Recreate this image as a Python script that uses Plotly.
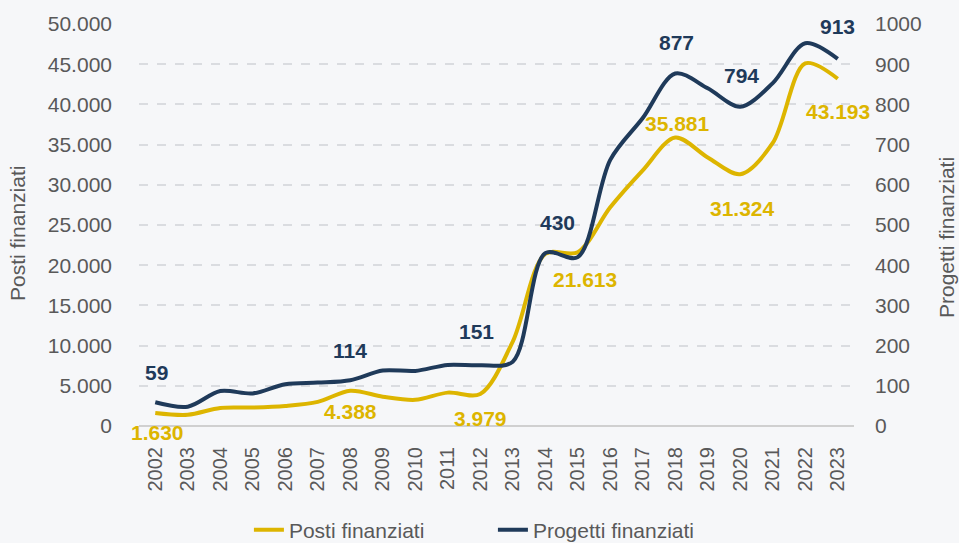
import plotly.graph_objects as go

years = list(range(2002, 2024))
posti = [1630, 1400, 2250, 2300, 2500, 3000, 4388, 3650, 3250, 4150, 3979, 10500,
         21400, 21613, 27200, 31800, 35881, 33400, 31324, 35200, 45100, 43193]
progetti = [59, 48, 87, 81, 104, 108, 114, 138, 137, 152, 151, 160,
            430, 420, 662, 766, 877, 840, 794, 853, 952, 913]

posti_labels_idx = [0, 6, 10, 13, 16, 18, 21]
posti_label_shift = [-20, -21, -24, -27, 14, -34, -33]
posti_label_xshift = [2, 0, 0, 7, 2, 2, 0]
progetti_labels_idx = [0, 6, 10, 12, 16, 18, 21]
progetti_label_shift = [30, 30, 34, 31, 31, 31, 32]
progetti_label_xshift = [1, 0, -4, 12, 1, 1, 0]

YELLOW = "#DDB500"
BLUE = "#1F3A5A"
GREY = "#595959"
BG = "#F6F7F9"
FONT = "Liberation Sans, Arial, sans-serif"
FS = 21

fig = go.Figure()
fig.add_trace(go.Scatter(x=years, y=posti, name="Posti finanziati", mode="lines",
                         line=dict(color=YELLOW, width=4, shape="spline", smoothing=0.9),
                         yaxis="y"))
fig.add_trace(go.Scatter(x=years, y=progetti, name="Progetti finanziati", mode="lines",
                         line=dict(color=BLUE, width=4, shape="spline", smoothing=0.9),
                         yaxis="y2"))

annotations = []
for i, ys, xs in zip(posti_labels_idx, posti_label_shift, posti_label_xshift):
    annotations.append(dict(x=years[i], y=posti[i], xref="x", yref="y",
                            text=f"{posti[i]:,}".replace(",", "."), showarrow=False,
                            yshift=ys, xshift=xs,
                            font=dict(family=FONT, size=FS, color=YELLOW, weight="bold")))
for i, ys, xs in zip(progetti_labels_idx, progetti_label_shift, progetti_label_xshift):
    annotations.append(dict(x=years[i], y=progetti[i], xref="x", yref="y2",
                            text=str(progetti[i]), showarrow=False,
                            yshift=ys, xshift=xs,
                            font=dict(family=FONT, size=FS, color=BLUE, weight="bold")))

# axis titles
annotations.append(dict(text="Posti finanziati", xref="paper", yref="paper",
                        x=(18 - 139) / 715, y=(426 - 234) / 402, textangle=-90,
                        showarrow=False, xanchor="center", yanchor="middle",
                        font=dict(family=FONT, size=FS, color=GREY)))
annotations.append(dict(text="Progetti finanziati", xref="paper", yref="paper",
                        x=(946 - 139) / 715, y=(426 - 237) / 402, textangle=-90,
                        showarrow=False, xanchor="center", yanchor="middle",
                        font=dict(family=FONT, size=FS, color=GREY)))

fig.update_layout(
    width=959, height=543,
    margin=dict(l=139, r=105, t=24, b=117, autoexpand=False),
    paper_bgcolor=BG, plot_bgcolor=BG,
    font=dict(family=FONT, size=FS, color=GREY),
    separators=",.",
    showlegend=True,
    legend=dict(orientation="h", x=0.495, xanchor="center", y=-0.259, yanchor="middle",
                font=dict(size=FS, color=GREY), entrywidth=199, bgcolor="rgba(0,0,0,0)"),
    xaxis=dict(range=[2001.5, 2023.5], tickmode="array", tickvals=years,
               ticktext=[str(y) for y in years], tickangle=-90, showgrid=False,
               zeroline=False, showline=False, ticks="",
               tickfont=dict(size=20, color=GREY), ticklabelstandoff=16),
    yaxis=dict(range=[0, 50000], dtick=5000, tickformat=",d", showgrid=True,
               gridcolor="#DADCE0", griddash="dash", gridwidth=1.5,
               zeroline=True, zerolinecolor="#D0D0D0", zerolinewidth=2,
               ticks="", ticklabelstandoff=26,
               tickfont=dict(size=FS, color=GREY)),
    yaxis2=dict(range=[0, 1000], dtick=100, overlaying="y", side="right", showgrid=False,
                zeroline=False, ticks="", ticklabelstandoff=20,
                tickfont=dict(size=FS, color=GREY)),
    annotations=annotations,
)

fig.write_html("out.html", config={"displayModeBar": False},
               post_script="document.body.style.margin='0';")
